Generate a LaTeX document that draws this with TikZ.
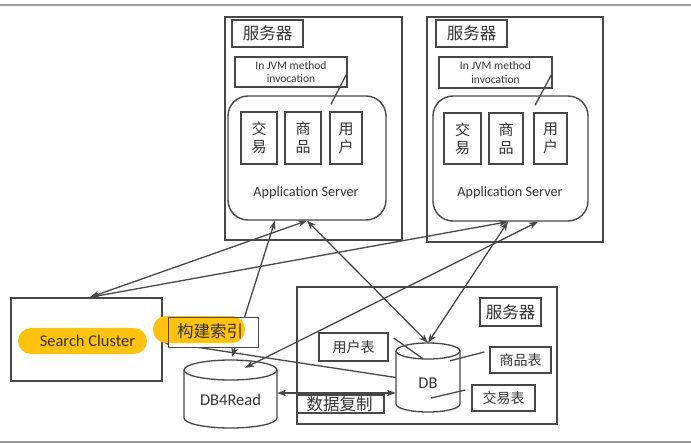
\documentclass[tikz,border=0pt]{standalone}
\usepackage{fontspec}
\setmainfont{Carlito}
\newfontfamily\cjk{Noto Sans CJK SC}
\usetikzlibrary{arrows.meta,calc}
\definecolor{lc}{HTML}{474747}
\definecolor{tc}{HTML}{333333}
\definecolor{hl}{HTML}{FFC20E}
\definecolor{rulec}{HTML}{9A9A9A}
\begin{document}
\begin{tikzpicture}[x=1pt,y=-1pt,
  outer/.style={draw=lc, line width=1.5pt, inner sep=0pt},
  box/.style={draw=lc, line width=1.3pt, inner sep=0pt, fill=white},
  appbox/.style={draw=lc, line width=1.4pt, inner sep=0pt, rounded corners=20pt},
  hid/.style={inner sep=0pt},
  zh/.style={text=tc, font=\cjk\fontsize{16.5pt}{18pt}\selectfont},
  zhs/.style={text=tc, font=\cjk\fontsize{14pt}{16pt}\selectfont},
  zhv/.style={text=tc, align=center, font=\cjk\fontsize{15pt}{18pt}\selectfont},
  en/.style={text=tc, font=\fontsize{14.2pt}{16pt}\selectfont},
  enb/.style={text=tc, font=\fontsize{16.5pt}{18pt}\selectfont},
  jvmt/.style={text=tc, align=center, font=\fontsize{11.5pt}{13.5pt}\selectfont},
  pill/.style={fill=hl, rounded corners=13pt},
  conn/.style={draw=lc, line width=1.3pt, arrows={Stealth[length=9pt,width=6.5pt,inset=2.5pt]-Stealth[length=9pt,width=6.5pt,inset=2.5pt]}},
  connr/.style={draw=lc, line width=1.3pt, arrows={-Stealth[length=9pt,width=6.5pt,inset=2.5pt]}},
  plain/.style={draw=lc, line width=1.3pt},
  cyl/.style={draw=lc, line width=1.3pt, fill=white},
  rule/.style={draw=rulec, line width=1.5pt}]
\useasboundingbox (0,0) rectangle (691,444);
\draw[rule] (0,5) -- (691,5);
\draw[rule] (0,442) -- (691,442);

% outer boxes
\node[outer, minimum width=177pt, minimum height=223pt] (s1) at (313.5,128.5) {};
\node[outer, minimum width=176pt, minimum height=225pt] (s2) at (515,129.5) {};
\node[outer, minimum width=260pt, minimum height=137pt] (s3) at (427,355.5) {};
\node[outer, minimum width=151pt, minimum height=83pt] (sc) at (86.5,339.5) {};

% server 1
\node[box, minimum width=71pt, minimum height=27pt, zh] (s1lab) at (267.5,33.5) {服务器};
\node[box, minimum width=112pt, minimum height=30pt, jvmt] (jvm1) at (291,72) {In JVM method\\invocation};
\node[appbox, minimum width=158pt, minimum height=124pt] (app1) at (307,158) {};
\node[box, minimum width=36pt, minimum height=52pt, zhv] (t1) at (259,138) {交\\易};
\node[box, minimum width=36pt, minimum height=52pt, zhv] (p1) at (303,138) {商\\品};
\node[box, minimum width=32pt, minimum height=52pt, zhv] (u1) at (346,138) {用\\户};
\node[en] (al1) at (306,193) {Application Server};

% server 2
\node[box, minimum width=71pt, minimum height=27pt, zh] (s2lab) at (471.5,33.5) {服务器};
\node[box, minimum width=113pt, minimum height=31pt, jvmt] (jvm2) at (495.5,72.5) {In JVM method\\invocation};
\node[appbox, minimum width=155pt, minimum height=125pt] (app2) at (510.5,158.5) {};
\node[box, minimum width=37pt, minimum height=51pt, zhv] (t2) at (462.5,138.5) {交\\易};
\node[box, minimum width=34pt, minimum height=51pt, zhv] (p2) at (506,138.5) {商\\品};
\node[box, minimum width=33pt, minimum height=51pt, zhv] (u2) at (550.5,138.5) {用\\户};
\node[en] (al2) at (510,193) {Application Server};

% server 3 (DB)
\node[box, minimum width=61pt, minimum height=28pt, zh] (s3lab) at (510.5,312) {服务器};
\node[box, minimum width=69pt, minimum height=28pt, zhs] (ut) at (353.5,347) {用户表};
\node[box, minimum width=61pt, minimum height=26pt, zhs] (gt) at (520.5,360) {商品表};
\node[box, minimum width=63pt, minimum height=26pt, zhs] (jt) at (503.5,398) {交易表};
\node[box, minimum width=87pt, minimum height=18pt] (rep) at (340.5,404) {};
\node[zh] at (339.5,404.5) {数据复制};

% cylinders
\node[hid, minimum width=93pt, minimum height=68pt] (db4) at (230.5,394) {};
\filldraw[cyl] (184,370) -- (184,418) arc[start angle=180, end angle=360, x radius=46.5pt, y radius=10pt]
  -- (277,370) arc[start angle=0, end angle=180, x radius=46.5pt, y radius=10pt] -- cycle;
\draw[cyl, fill=none] (184,370) arc[start angle=180, end angle=360, x radius=46.5pt, y radius=10pt];
\node[enb] at (230.5,400) {DB4Read};

\node[hid, minimum width=64pt, minimum height=69pt] (db) at (428,377.5) {};
\filldraw[cyl] (396,351) -- (396,404) arc[start angle=180, end angle=360, x radius=32pt, y radius=8pt]
  -- (460,351) arc[start angle=0, end angle=180, x radius=32pt, y radius=8pt] -- cycle;
\draw[cyl, fill=none] (396,351) arc[start angle=180, end angle=360, x radius=32pt, y radius=8pt];
\node[enb] at (428,383) {DB};

% jvm links
\draw[plain] ([xshift=24pt,yshift=-9pt]app1.north) -- (jvm1.east);
\draw[plain] ([xshift=24.5pt,yshift=-10pt]app2.north) -- (jvm2.east);

% table links
\draw[plain] ([xshift=5pt,yshift=9pt]ut.east) -- ([xshift=-5pt,yshift=-16pt]db.north);
\draw[plain] ([xshift=-5pt,yshift=8pt]gt.west) -- ([xshift=22pt,yshift=-18pt]db.north);
\draw[plain] ([xshift=-6pt,yshift=8pt]jt.west) -- ([xshift=3pt,yshift=-20.5pt]db.center);

% connectors
\draw[conn] ([xshift=3.5pt]sc.north) -- (app1.south);
\draw[conn] ([xshift=3.5pt]sc.north) -- ([xshift=-2.5pt]app2.south);
\draw[conn] ([xshift=1.5pt,yshift=3pt]db4.north) -- ([xshift=-32pt]app1.south);
\draw[conn] (app1.south) -- (db.north);
\draw[conn] ([xshift=-2.5pt]app2.south) -- (db.north);
\draw[conn] ([xshift=27.5pt]app2.south) -- ([xshift=14.5pt,yshift=-8pt]db4.north);
\draw[connr] (db.west) -- ([yshift=-2.5pt]sc.east);
\draw[conn] ([yshift=1pt]db4.east) -- ([yshift=1pt]db4.east -| db.west);

% index box
\node[box, draw=none, minimum width=89pt, minimum height=29pt] (idx) at (213.5,332.5) {};
\fill[pill] (153,316) rectangle (245,343);
\draw[lc, line width=1.3pt] (idx.north west) rectangle (idx.south east);
\node[zh] at (210,331) {构建索引};

% search cluster
\fill[pill] (18,328) rectangle (147,354);
\node[enb] at (87.5,341) {Search Cluster};
\end{tikzpicture}
\end{document}
